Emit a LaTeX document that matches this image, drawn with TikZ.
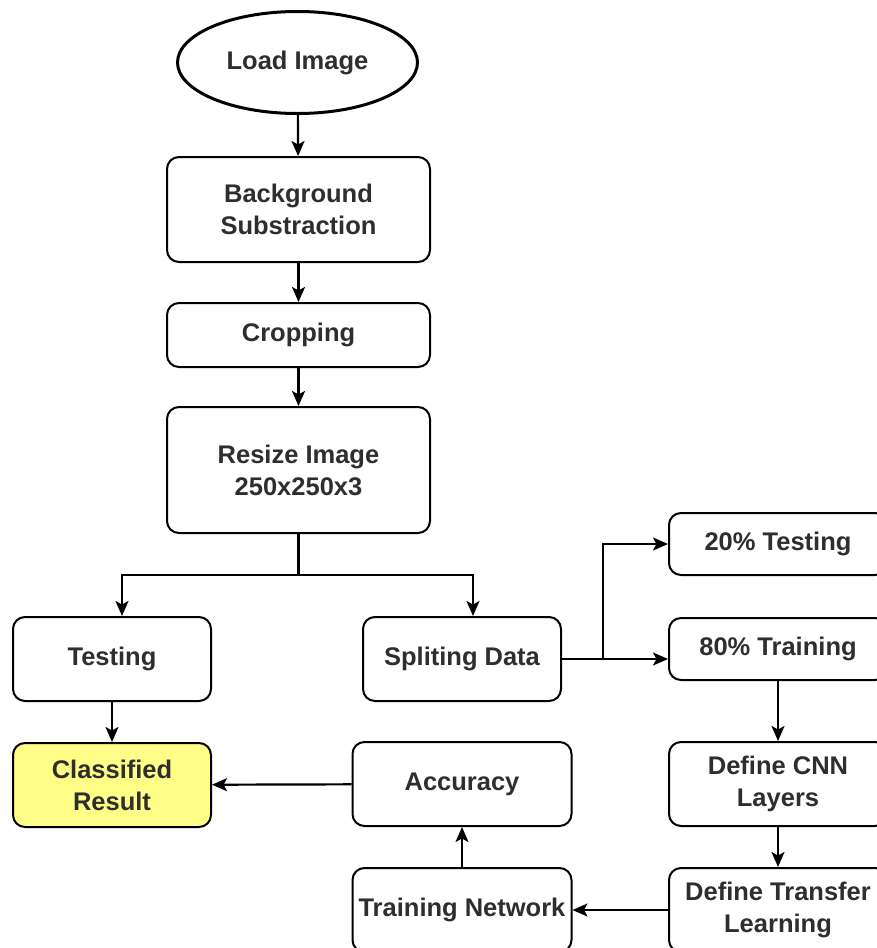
\documentclass[tikz,border=0pt]{standalone}
\usepackage{fontspec}
\setmainfont{Liberation Sans}
\usetikzlibrary{shapes.geometric,arrows.meta}
\definecolor{resyellow}{HTML}{FFFF88}
\begin{document}
\begin{tikzpicture}[x=1pt,y=-1pt,
  txt/.style={font=\fontsize{25.5}{32}\selectfont\bfseries, text=black!82},
  box/.style={txt, draw, line width=2pt, rounded corners=12pt, align=center, inner sep=0pt},
  arr/.style={line width=2.2pt, -{Stealth[length=15pt,width=13pt,inset=3.5pt]}},
  ln/.style={line width=2.2pt}]
\useasboundingbox (0,0) rectangle (877,948);
\clip (0,0) rectangle (877,948);
\fill[white] (0,0) rectangle (877,948);

\node[txt, ellipse, draw, line width=3pt, minimum width=240pt, minimum height=102pt] (load) at (297.5,62.5) {Load Image};
\node[box, minimum width=263pt, minimum height=105pt] (bg) at (298.5,209.5) {Background\\Substraction};
\node[box, minimum width=263pt, minimum height=64pt] (crop) at (298.5,335) {Cropping};
\node[box, minimum width=263pt, minimum height=126pt] (resize) at (298.5,470) {Resize Image\\250x250x3};
\node[box, minimum width=198pt, minimum height=84pt] (test) at (112,659) {Testing};
\node[box, minimum width=198pt, minimum height=84pt] (split) at (462,659) {Spliting Data};
\node[box, fill=resyellow, minimum width=198pt, minimum height=84pt] (cls) at (112,785) {Classified\\Result};
\node[box, minimum width=219pt, minimum height=84pt] (acc) at (462,784) {Accuracy};
\node[box, minimum width=219pt, minimum height=84pt] (tn) at (462,910) {Training Network};
\node[box, minimum width=218pt, minimum height=62pt] (t20) at (778,544) {20\% Testing};
\node[box, minimum width=218pt, minimum height=62pt] (t80) at (778,649) {80\% Training};
\node[box, minimum width=218pt, minimum height=84pt] (cnn) at (778,784) {Define CNN\\Layers};
\node[box, minimum width=218pt, minimum height=84pt] (tl) at (778,910) {Define Transfer\\Learning};

\draw[arr] (load) -- (bg);
\draw[arr] (bg) -- (crop);
\draw[arr] (crop) -- (resize);
\coordinate (j) at (298.5,575);
\draw[ln] (resize.south) -- (j);
\draw[arr] (j) -| ([xshift=10pt]test.north);
\draw[arr] (j) -| ([xshift=11pt]split.north);
\draw[arr] (test) -- (cls);
\draw[arr] (acc) -- (cls);
\draw[arr] (tn) -- (acc);
\draw[arr] (tl) -- (tn);
\draw[arr] (t80) -- (cnn);
\draw[arr] (cnn) -- (tl);
\coordinate (s) at (603,659);
\draw[ln] (split.east) -- (s);
\draw[arr] (s) |- (t20.west);
\draw[arr] (s) -- (s -| t80.west);
\end{tikzpicture}
\end{document}
